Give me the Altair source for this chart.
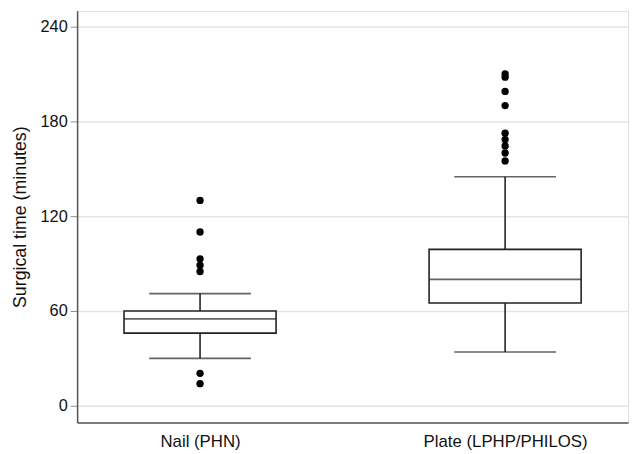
import altair as alt
import pandas as pd

groups = ["Nail (PHN)", "Plate (LPHP/PHILOS)"]
whisker_low = [30, 34]
q1 = [46, 65]
median = [55, 80]
q3 = [60, 99]
whisker_high = [71, 145]

outlier_groups = (["Nail (PHN)"] * 7) + (["Plate (LPHP/PHILOS)"] * 9)
outlier_values = [130, 110, 93, 89, 85, 20.5, 14,
                  210, 208, 199, 190, 172.5, 168.5, 164.5, 160, 155]

stats = pd.DataFrame({
    "group": groups, "lo": whisker_low, "q1": q1, "med": median,
    "q3": q3, "hi": whisker_high,
})
outs = pd.DataFrame({"group": outlier_groups, "value": outlier_values})

FONT = "Liberation Sans"
LINE = "#222222"

x = alt.X("group:N", scale=alt.Scale(type="point", padding=0.403, align=0.5),
          axis=alt.Axis(title=None, ticks=False, labelAngle=0, labelFontSize=17,
                        labelFont=FONT, labelColor="#111", labelPadding=11,
                        domainColor="#555", domainWidth=1.5, grid=False))
yscale = alt.Scale(domain=[-10.625, 250], nice=False, zero=False)
yaxis = alt.Axis(title="Surgical time (minutes)", values=[0, 60, 120, 180, 240],
                 titleFont=FONT, titleFontSize=18, titleFontWeight="normal",
                 titleColor="#111", titlePadding=11,
                 labelFont=FONT, labelFontSize=16.5, labelColor="#111", labelPadding=3,
                 tickColor="#888", tickSize=7, tickWidth=1,
                 domainColor="#555", domainWidth=1.5,
                 grid=True, gridColor="#e4e4e4", gridWidth=1.5)

base = alt.Chart(stats)

whisk_lo = base.mark_rule(color=LINE, strokeWidth=1.6).encode(
    x=x, y=alt.Y("lo:Q", scale=yscale, axis=yaxis), y2="q1:Q")
whisk_hi = base.mark_rule(color=LINE, strokeWidth=1.6).encode(
    x=x, y=alt.Y("q3:Q", scale=yscale), y2="hi:Q")
box = base.mark_bar(size=154, fill="white", stroke=LINE, strokeWidth=1.6).encode(
    x=x, y=alt.Y("q1:Q", scale=yscale), y2="q3:Q")
med = base.mark_tick(size=154, thickness=1.6, color=LINE, orient="horizontal").encode(
    x=x, y=alt.Y("med:Q", scale=yscale))
cap_lo = base.mark_tick(size=103, thickness=1.6, color=LINE, orient="horizontal").encode(
    x=x, y=alt.Y("lo:Q", scale=yscale))
cap_hi = base.mark_tick(size=103, thickness=1.6, color=LINE, orient="horizontal").encode(
    x=x, y=alt.Y("hi:Q", scale=yscale))
points = alt.Chart(outs).mark_circle(size=55, color="#000", opacity=1).encode(
    x=x, y=alt.Y("value:Q", scale=yscale))

chart = alt.layer(whisk_lo, whisk_hi, box, med, cap_lo, cap_hi, points).properties(
    width=558, height=417,
    autosize=alt.AutoSizeParams(type="none"),
    padding={"left": 70, "top": 0, "right": 4, "bottom": 29},
).configure_view(stroke=None).configure(background="white")

chart.save("out.html", embed_options={"renderer": "svg", "actions": False})
